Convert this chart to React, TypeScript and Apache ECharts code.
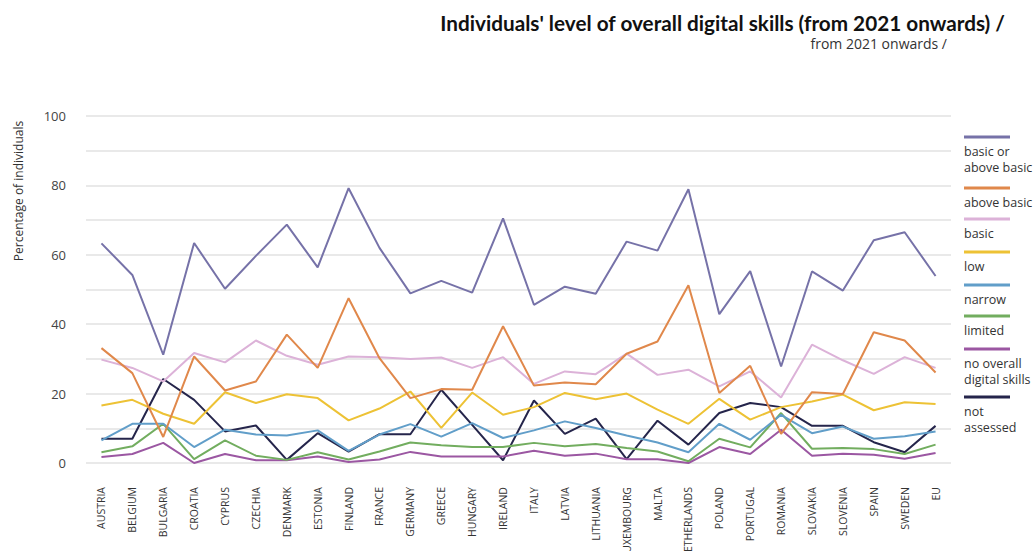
import React, { useEffect, useRef } from "react";
import * as echarts from "echarts";

const categories = [
  "AUSTRIA", "BELGIUM", "BULGARIA", "CROATIA", "CYPRUS", "CZECHIA", "DENMARK",
  "ESTONIA", "FINLAND", "FRANCE", "GERMANY", "GREECE", "HUNGARY", "IRELAND",
  "ITALY", "LATVIA", "LITHUANIA", "LUXEMBOURG", "MALTA", "NETHERLANDS", "POLAND",
  "PORTUGAL", "ROMANIA", "SLOVAKIA", "SLOVENIA", "SPAIN", "SWEDEN", "EU",
];

const basicOrAbove = [63.3, 54.2, 31.2, 63.4, 50.2, 59.7, 68.7, 56.4, 79.2, 62.0, 48.9, 52.5, 49.1, 70.5, 45.6, 50.8, 48.8, 63.8, 61.2, 78.9, 42.9, 55.3, 27.8, 55.2, 49.7, 64.2, 66.5, 53.9];
const aboveBasic = [33.1, 25.9, 7.5, 30.7, 20.9, 23.5, 37.0, 27.4, 47.5, 30.2, 18.7, 21.3, 21.1, 39.4, 22.3, 23.2, 22.7, 31.5, 35.0, 51.2, 20.2, 28.0, 8.4, 20.4, 19.9, 37.7, 35.3, 26.1];
const basic = [29.8, 27.4, 23.5, 31.7, 29.0, 35.3, 30.9, 28.3, 30.7, 30.5, 30.0, 30.4, 27.4, 30.5, 22.8, 26.4, 25.6, 31.5, 25.4, 26.9, 22.1, 26.4, 18.9, 34.1, 29.6, 25.7, 30.5, 27.4];
const low = [16.6, 18.2, 14.2, 11.3, 20.4, 17.3, 19.8, 18.7, 12.3, 15.7, 20.6, 10.1, 20.3, 13.9, 16.1, 20.2, 18.4, 20.0, 15.4, 11.3, 18.5, 12.5, 16.1, 17.7, 19.7, 15.2, 17.5, 17.0];
const narrow = [6.5, 11.3, 11.3, 4.6, 9.6, 8.2, 7.9, 9.4, 3.5, 8.2, 11.2, 7.6, 11.5, 7.2, 9.4, 12.0, 10.1, 7.9, 5.9, 3.1, 11.3, 6.7, 13.9, 8.6, 10.5, 7.0, 7.7, 9.1];
const limited = [3.1, 4.8, 11.3, 1.1, 6.5, 2.1, 0.9, 3.1, 1.0, 3.3, 5.9, 5.1, 4.6, 4.6, 5.8, 4.8, 5.5, 4.3, 3.3, 0.5, 7.0, 4.5, 14.4, 4.1, 4.3, 4.0, 2.6, 5.3];
const noOverall = [1.7, 2.6, 5.8, 0.0, 2.6, 0.8, 0.8, 1.9, 0.3, 1.0, 3.2, 1.9, 1.9, 1.9, 3.5, 2.1, 2.7, 1.1, 1.1, 0.0, 4.6, 2.6, 9.6, 2.1, 2.7, 2.4, 1.2, 2.9];
const notAssessed = [7.0, 7.0, 24.2, 18.2, 9.1, 10.8, 0.9, 8.6, 3.3, 8.3, 8.3, 21.1, 11.0, 0.8, 18.0, 8.4, 12.8, 1.1, 12.2, 5.3, 14.4, 17.3, 16.1, 10.7, 10.7, 6.0, 3.1, 10.7];

const seriesNames = [
  "basic or above basic", "above basic", "basic", "low", "narrow",
  "limited", "no overall digital skills", "not assessed",
];
const legendLabels = [
  "basic or\nabove basic", "above basic", "basic", "low", "narrow",
  "limited", "no overall\ndigital skills", "not\nassessed",
];
const seriesData = [basicOrAbove, aboveBasic, basic, low, narrow, limited, noOverall, notAssessed];
const colors = ["#7672a8", "#e0884b", "#dcb2d8", "#edc235", "#619ec9", "#72ad5f", "#9b57a2", "#25254b"];

const yTicks = [0, 20, 40, 60, 80, 100];

const titleText = "Individuals' level of overall digital skills (from 2021 onwards) /";
const subtitleText = "from 2021 onwards /";
const yAxisTitle = "Percentage of individuals";

const legendLineY = [137, 188, 219, 252, 285, 316, 349, 397];

const TITLE_FONT = 'bold 21px Lato, "Open Sans", sans-serif';

function measure(text: string, font: string): number {
  try {
    const c = document.createElement("canvas").getContext("2d");
    if (!c) return 0;
    c.font = font;
    return c.measureText(text).width;
  } catch (e) {
    return 0;
  }
}

export default function App() {
  const ref = useRef<HTMLDivElement>(null);
  useEffect(() => {
    if (!ref.current) return;
    const chart = echarts.init(ref.current, undefined, { renderer: "svg" });
    const tw = measure(titleText, TITLE_FONT);
    const titleScale = tw > 0 ? 565 / tw : 1;
    const legendGraphics: any[] = [];
    legendLabels.forEach((lab, i) => {
      legendGraphics.push({
        type: "line",
        shape: { x1: 964, y1: legendLineY[i], x2: 1010, y2: legendLineY[i] },
        style: { stroke: colors[i], lineWidth: 3 },
      });
      legendGraphics.push({
        type: "text",
        x: 964,
        y: legendLineY[i] + 6,
        style: {
          text: lab,
          fill: "#333",
          font: '12.5px "Open Sans", sans-serif',
          lineHeight: 16,
          textVerticalAlign: "top",
        },
      });
    });
    chart.setOption({
      animation: false,
      backgroundColor: "#fff",
      grid: { left: 86, right: 84, top: 116, bottom: 88, outerBoundsMode: "none", containLabel: false },
      xAxis: {
        type: "category",
        data: categories,
        boundaryGap: true,
        axisLine: { show: false },
        axisTick: { show: false },
        axisLabel: {
          rotate: 90,
          interval: 0,
          margin: 24,
          fontSize: 10.5,
          color: "#333",
          fontFamily: '"Open Sans", sans-serif',
        },
      },
      yAxis: {
        type: "value",
        min: 0,
        max: 100,
        interval: 10,
        axisLine: { show: false },
        axisTick: { show: false },
        axisLabel: {
          margin: 20,
          fontSize: 13,
          color: "#444",
          fontFamily: '"Open Sans", sans-serif',
          formatter: (v: number) => (yTicks.includes(v) ? String(v) : ""),
        },
        splitLine: { lineStyle: { color: "#e2e2e2", width: 1.5 } },
      },
      series: seriesNames.map((name, i) => ({
        name,
        type: "line",
        data: seriesData[i],
        symbol: "none",
        lineStyle: { color: colors[i], width: 2 },
        itemStyle: { color: colors[i] },
        z: 10 - i,
      })),
      graphic: [
        {
          type: "text",
          x: 1005,
          y: 22,
          scaleX: titleScale,
          style: {
            text: titleText,
            fill: "#111",
            font: TITLE_FONT,
            textAlign: "right",
            textVerticalAlign: "middle",
          },
        },
        {
          type: "text",
          x: 947,
          y: 43,
          style: {
            text: subtitleText,
            fill: "#333",
            font: '14px "Open Sans", sans-serif',
            textAlign: "right",
            textVerticalAlign: "middle",
          },
        },
        {
          type: "text",
          x: 18,
          y: 191,
          rotation: Math.PI / 2,
          style: {
            text: yAxisTitle,
            fill: "#333",
            font: '12px "Open Sans", sans-serif',
            textAlign: "center",
            textVerticalAlign: "middle",
          },
        },
        ...legendGraphics,
      ],
    });
    return () => chart.dispose();
  }, []);
  return (
    <div
      ref={ref}
      style={{ position: "absolute", left: 0, top: 0, width: 1035, height: 551 }}
    />
  );
}
